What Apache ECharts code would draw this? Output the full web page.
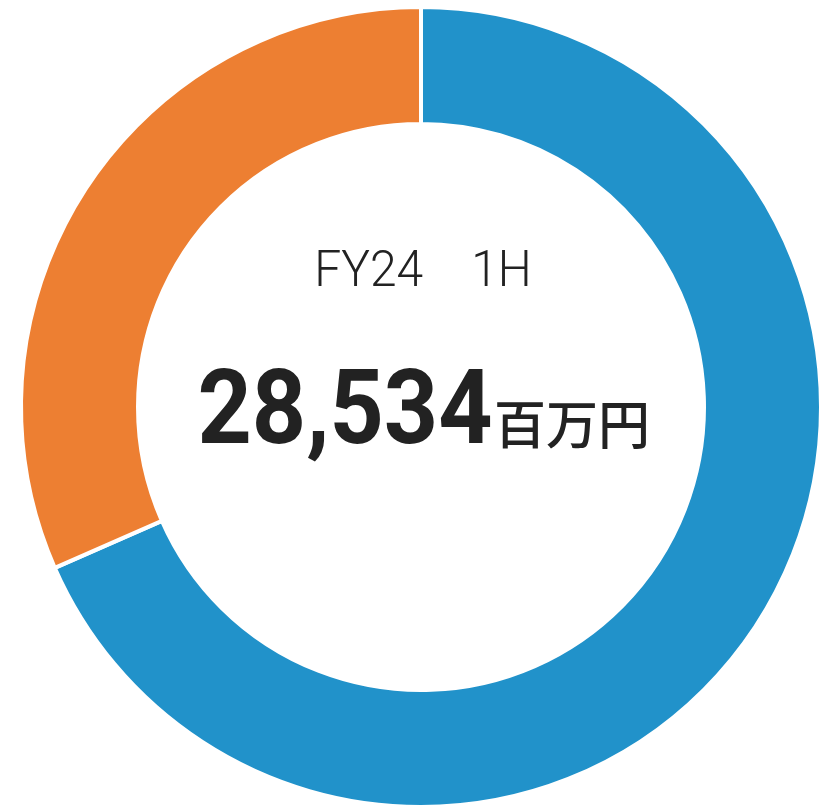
<!DOCTYPE html>
<html><head><meta charset="utf-8">
<script src="https://cdn.jsdelivr.net/npm/echarts@6/dist/echarts.min.js"></script>
<style>html,body{margin:0;padding:0;background:#fff}#c{width:821px;height:807px}</style>
</head><body><div id="c"></div>
<script>
const categories = ['A', 'B'];
const values = [19520, 9014];
const colors = ['#2192CA', '#ED7F32'];
const periodLabel = 'FY24　1H';
const totalLabel = '28,534';
const unitLabel = '百万円';

const chart = echarts.init(document.getElementById('c'), null, {renderer: 'canvas'});
chart.setOption({
  animation: false,
  graphic: [{
    type: 'text', x: 423, y: 273, scaleX: 0.96,
    style: {text: periodLabel, x: 0, y: 0, font: '300 50px Roboto', fill: '#222', textAlign: 'center', textVerticalAlign: 'middle'}
  }, {
    type: 'text', x: 345, y: 417, scaleX: 0.92,
    style: {text: totalLabel, x: 0, y: 0, font: 'bold 103px Roboto', fill: '#222', textAlign: 'center', textVerticalAlign: 'middle'}
  }, {
    type: 'text', x: 494, y: 424,
    style: {text: unitLabel, x: 0, y: 0, font: '500 52px "Noto Sans CJK JP"', fill: '#222', textAlign: 'left', textVerticalAlign: 'middle'}
  }],
  series: [{
    type: 'pie',
    center: [421, 407],
    radius: [283, 400],
    startAngle: 90,
    clockwise: true,
    label: {show: false},
    labelLine: {show: false},
    itemStyle: {borderColor: '#fff', borderWidth: 4},
    emphasis: {disabled: true},
    data: categories.map((c, i) => ({name: c, value: values[i], itemStyle: {color: colors[i]}}))
  }]
});
</script></body></html>
